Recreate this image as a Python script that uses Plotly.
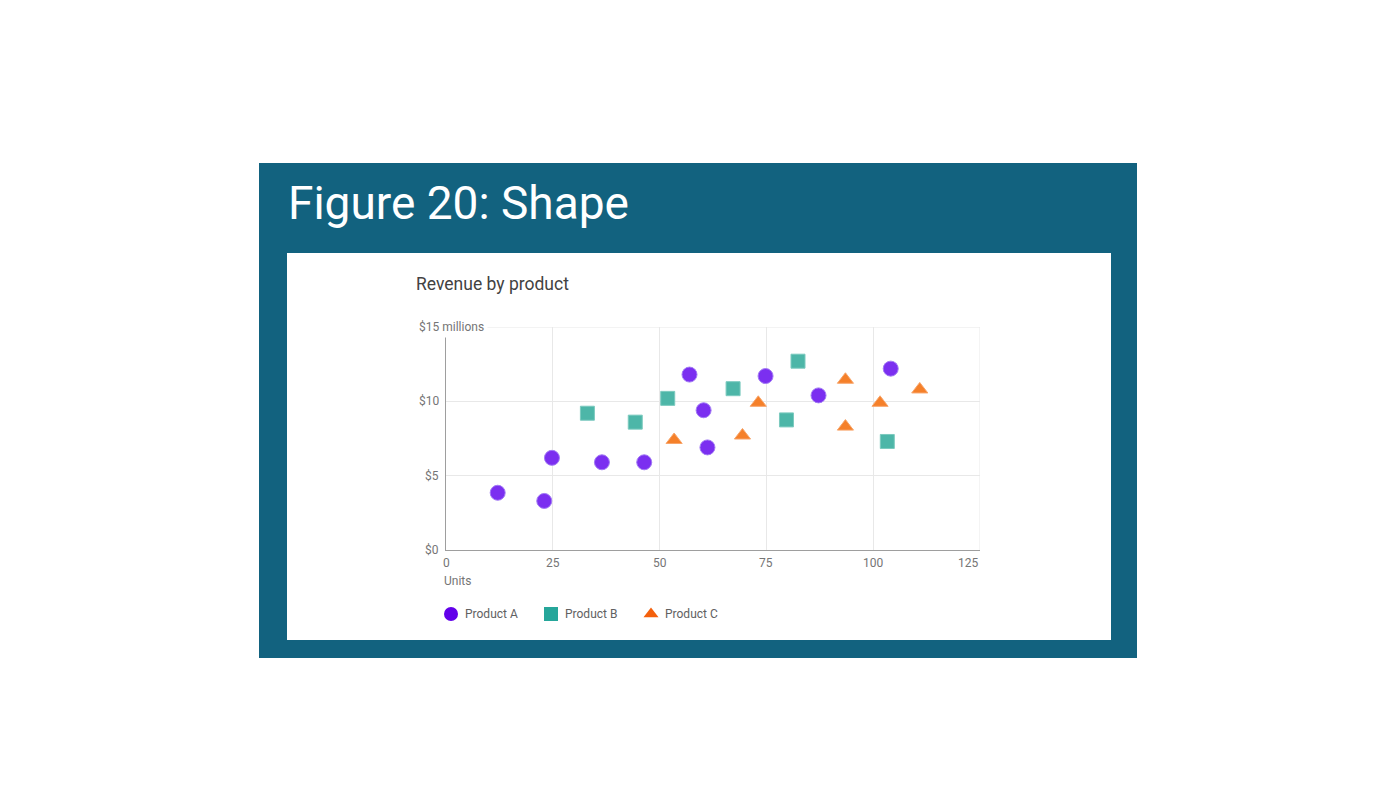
import plotly.graph_objects as go

# ---- data ----
a_units = [12.1, 23.0, 24.8, 36.5, 46.4, 57.0, 60.3, 61.2, 74.8, 87.2, 104.1]
a_rev = [3.85, 3.3, 6.2, 5.9, 5.9, 11.8, 9.4, 6.9, 11.7, 10.4, 12.2]
b_units = [33.1, 44.3, 51.9, 67.2, 79.7, 82.4, 103.3]
b_rev = [9.2, 8.6, 10.2, 10.85, 8.75, 12.7, 7.3]
c_units = [53.4, 69.4, 73.1, 93.5, 93.5, 101.6, 110.9]
c_rev = [7.4, 7.7, 9.9, 11.45, 8.3, 9.9, 10.8]

series_names = ["Product A", "Product B", "Product C"]
x_ticks = [0, 25, 50, 75, 100, 125]
x_tick_labels = ["0", "25", "50", "75", "100", "125"]
y_ticks = [0, 5, 10, 15]
y_tick_labels = ["$0", "$5", "$10", "$15 millions"]

W, H = 1400, 800
def px(x):
    return x / W
def py(y):
    return 1 - y / H

FRAME = "#12627f"
GRID = "#e8e8e8"
TICKC = "#757575"
FONT = "Roboto"

fig = go.Figure()

marker_styles = [
    dict(symbol="circle", size=15, color="#7b2ff0", line=dict(color="#a27af5", width=1)),
    dict(symbol="square", size=14, color="#4db6a8", line=dict(color="#7ccabf", width=1)),
    dict(symbol="triangle-up", size=14, color="#f5802a", line=dict(color="#f8a56a", width=1)),
]
for xs, ys, name, ms in zip([a_units, b_units, c_units], [a_rev, b_rev, c_rev], series_names, marker_styles):
    fig.add_trace(go.Scatter(x=xs, y=ys, mode="markers", name=name, marker=ms,
                             showlegend=False, xaxis="x", yaxis="y"))

# custom legend on overlay axis (pixel coords)
legend_colors = ["#6200ea", "#26a69a", "#f4600c"]
legend_symbols = ["circle", "square", "triangle-up"]
legend_sizes = [14, 14, 13]
legend_x = [451, 551, 651]
legend_y = 614
for i, name in enumerate(series_names):
    fig.add_trace(go.Scatter(x=[legend_x[i]], y=[legend_y], mode="markers",
                             marker=dict(symbol=legend_symbols[i], size=legend_sizes[i], color=legend_colors[i]),
                             showlegend=False, xaxis="x2", yaxis="y2", hoverinfo="skip"))

x0p, x1p = 446, 980
y0p, y1p = 550, 327

fig.update_layout(
    width=W, height=H,
    margin=dict(l=0, r=0, t=0, b=0),
    paper_bgcolor="white",
    plot_bgcolor="rgba(0,0,0,0)",
    showlegend=False,
    xaxis=dict(domain=[px(x0p), px(x1p)], range=[0, 125], tickvals=x_ticks, showticklabels=False,
               showgrid=True, gridcolor=GRID, gridwidth=1, zeroline=False,
               showline=True, linecolor="#9e9e9e", linewidth=1, mirror=False, fixedrange=True),
    yaxis=dict(domain=[py(y0p), py(y1p)], range=[0, 15], tickvals=y_ticks, showticklabels=False,
               showgrid=True, gridcolor=GRID, gridwidth=1, zeroline=False,
               showline=True, linecolor="#9e9e9e", linewidth=1, fixedrange=True),
    xaxis2=dict(domain=[0, 1], range=[0, W], visible=False, anchor="y2"),
    yaxis2=dict(domain=[0, 1], range=[H, 0], visible=False, anchor="x2"),
)

shapes = [
    dict(type="rect", xref="paper", yref="paper", x0=px(259), x1=px(1137), y0=py(658), y1=py(163),
         fillcolor=FRAME, line=dict(width=0), layer="below"),
    dict(type="rect", xref="paper", yref="paper", x0=px(287), x1=px(1111), y0=py(640), y1=py(253),
         fillcolor="white", line=dict(width=0), layer="below"),
    # edge gridlines (top and right) that plotly omits
    dict(type="line", xref="x", yref="y", x0=0, x1=125, y0=15, y1=15,
         line=dict(color=GRID, width=1), layer="below"),
    dict(type="line", xref="x", yref="y", x0=125, x1=125, y0=0, y1=15,
         line=dict(color=GRID, width=1), layer="below"),
]
fig.update_layout(shapes=shapes)

ann = []
ann.append(dict(text="Figure 20: Shape", xref="paper", yref="paper", x=px(286), y=py(203),
                xanchor="left", yanchor="middle", showarrow=False,
                font=dict(family=FONT, size=46, color="white")))
ann.append(dict(text="Revenue by product", xref="paper", yref="paper", x=px(414), y=py(284),
                xanchor="left", yanchor="middle", showarrow=False,
                font=dict(family=FONT, size=17.5, color="#424242")))
# x tick labels
for v, t in zip(x_ticks, x_tick_labels):
    anchor = "right" if v == x_ticks[-1] else "center"
    ann.append(dict(text=t, xref="x", yref="paper", x=v, y=py(563), xanchor=anchor,
                    yanchor="middle", showarrow=False, font=dict(family=FONT, size=12, color=TICKC)))
# y tick labels
for v, t in zip(y_ticks, y_tick_labels):
    if v == y_ticks[-1]:
        ann.append(dict(text=t, xref="paper", yref="y", x=px(415), y=v, xanchor="left",
                        yanchor="middle", showarrow=False, bgcolor="white", borderpad=3,
                        font=dict(family=FONT, size=12, color=TICKC)))
    else:
        ann.append(dict(text=t, xref="paper", yref="y", x=px(441), y=v, xanchor="right",
                        yanchor="middle", showarrow=False,
                        font=dict(family=FONT, size=12, color=TICKC)))
ann.append(dict(text="Units", xref="paper", yref="paper", x=px(442), y=py(581), xanchor="left",
                yanchor="middle", showarrow=False, font=dict(family=FONT, size=12, color=TICKC)))
for i, name in enumerate(series_names):
    ann.append(dict(text=name, xref="paper", yref="paper", x=px(legend_x[i] + 12), y=py(legend_y),
                    xanchor="left", yanchor="middle", showarrow=False,
                    font=dict(family=FONT, size=12, color="#616161")))
fig.update_layout(annotations=ann)

fig.write_html("out.html")
